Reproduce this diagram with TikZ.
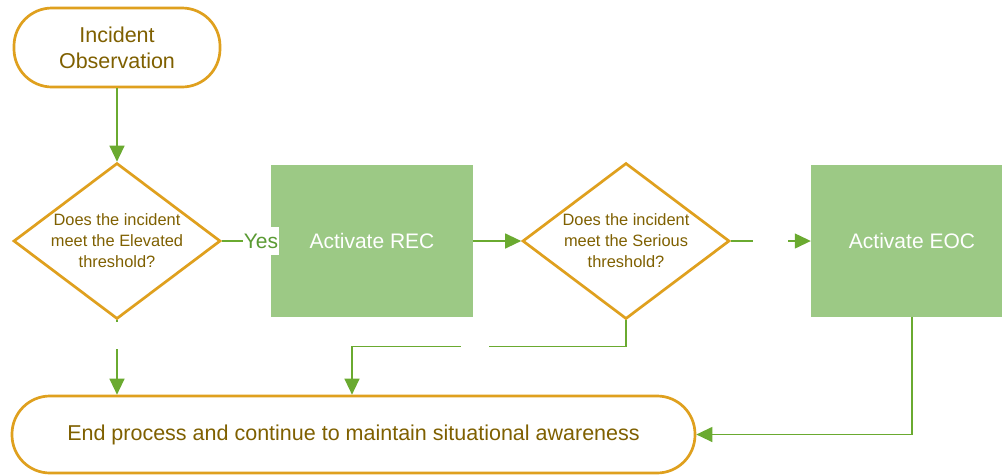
\documentclass[tikz,border=0pt]{standalone}
\usepackage{fontspec}
\setmainfont{Liberation Sans}
\usetikzlibrary{arrows.meta,shapes.geometric}
\definecolor{gold}{HTML}{DFA01E}
\definecolor{brown}{HTML}{7F6000}
\definecolor{boxgreen}{HTML}{9CC985}
\definecolor{linegreen}{HTML}{6AAA30}
\definecolor{yesgreen}{HTML}{5A9A33}
\tikzset{
  pill/.style={draw=gold, line width=2.7pt, rounded corners=38pt, text=brown, align=center, inner sep=0pt},
  dia/.style={diamond, draw=gold, line width=2.7pt, minimum width=207pt, minimum height=156pt, inner sep=0pt},
  qtext/.style={text=brown, align=center, font=\fontsize{16.4}{21}\selectfont, inner sep=0pt},
  actbox/.style={fill=boxgreen, text=white, minimum width=202pt, minimum height=152pt, inner sep=0pt, font=\fontsize{21}{25}\selectfont},
  conn/.style={draw=linegreen, line width=1.3pt},
  arr/.style={conn, -{Triangle[length=16pt, width=15pt]}},
  gapnode/.style={fill=white, inner sep=0pt, draw=none}
}
\begin{document}
\begin{tikzpicture}[x=1pt, y=-1pt]
\useasboundingbox (0,0) rectangle (1002,475);
\clip (0,0) rectangle (1002,475);
\fill[white] (0,0) rectangle (1002,475);

\node[pill, minimum width=206pt, minimum height=79pt, font=\fontsize{21.5}{26}\selectfont] (start) at (117,47.5) {Incident\\Observation};

\node[dia, label={[qtext]center:Does the incident\\meet the Elevated\\threshold?}] (d1) at (117,241) {};

\node[actbox] (rec) at (372,241) {Activate REC};

\node[dia, label={[qtext]center:Does the incident\\meet the Serious\\threshold?}] (d2) at (626,241) {};

\node[actbox] (eoc) at (912,241) {Activate EOC};

\node[pill, minimum width=683pt, minimum height=77pt, font=\fontsize{21.5}{26}\selectfont] (end) at (353.5,434.5) {End process and continue to maintain situational awareness};

% connectors
\draw[arr] (start.south) -- (d1.north);
\draw[conn] (d1.east) -- node[pos=0.8, gapnode, text=yesgreen, font=\fontsize{21}{25}\selectfont, minimum width=36pt, minimum height=28pt] (yes) {Yes} (rec.west);
\draw[arr] (rec.east) -- (d2.west);
\draw[arr] (d2.east) -- node[pos=0.49, gapnode, minimum width=35pt, minimum height=10pt] (g2) {} (eoc.west);
\draw[arr] (d1.south) -- node[pos=0.21, gapnode, minimum width=8pt, minimum height=27pt] (g1) {} (d1.south |- end.north);
\draw[arr] (d2.south) -- ++(0,26) -| node[pos=0.275, gapnode, minimum width=28pt, minimum height=8pt] (g3) {} ([xshift=-1.5pt]end.north);
\draw[arr] (eoc.south) |- (end.east);
\end{tikzpicture}
\end{document}
